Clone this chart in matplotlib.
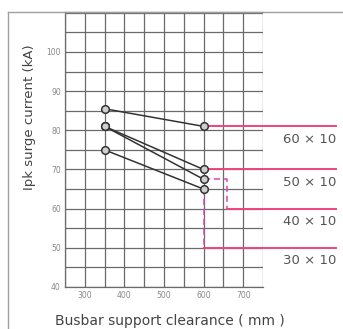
import numpy as np
import matplotlib.pyplot as plt
from matplotlib.lines import Line2D

# busbar sizes and surge current readings at 350 mm / 600 mm clearance
sizes = ["60 × 10", "50 × 10", "40 × 10", "30 × 10"]
clear = [350, 600]
ipk_350 = [85.5, 81, 81, 75]
ipk_600 = [81, 70, 67.5, 65]
# level where each size's pink line ends up, and the x of its step
level = [81, 70, 60, 50]
step_x = [600, 600, 660, 600]

pink = '#f0437c'
mag = '#dc45b4'
grid_c = '#6a6a6a'

fig = plt.figure(figsize=(3.43, 3.29), dpi=100)
ax = fig.add_axes([65/343, 42/329, 198/343, 275/329])
ax.set_xlim(250, 750)
ax.set_ylim(40, 110.2)
ax.set_xticks(np.arange(250, 751, 50), minor=True)
ax.set_yticks(np.arange(40, 111, 5), minor=True)
ax.set_xticks([300, 400, 500, 600, 700])
ax.set_yticks([40, 50, 60, 70, 80, 90, 100])
ax.grid(which='both', color=grid_c, lw=0.9)
ax.tick_params(which='both', length=0, pad=3, labelsize=5.5, labelcolor='#888888')
for s in ax.spines.values():
    s.set_color(grid_c)
    s.set_linewidth(0.9)
ax.spines['right'].set_visible(False)

xr = 935
for i in range(4):
    y0, y1, lv, sx = ipk_350[i], ipk_600[i], level[i], step_x[i]
    ax.plot(clear, [y0, y1], color='#333333', lw=1.1, zorder=4)
    if lv != y1:
        ax.plot([600, sx, sx], [y1, y1, lv], color=mag, lw=1.1, ls=(0, (4, 2.5)), zorder=3)
    ax.add_line(Line2D([sx, xr], [lv, lv], color=pink, lw=1.4, clip_on=False, zorder=3))
    ax.text(xr, lv - 3.3, sizes[i], ha='right', va='center', fontsize=9.5,
            color='#555555', clip_on=False)
    ax.plot(clear, [y0, y1], ls='none', marker='o', ms=5.5,
            mfc='#cfcfcf', mec='#333333', mew=1.1, zorder=5)

# outer frame
fig.add_artist(Line2D([8/343, 1], [1 - 12/329, 1 - 12/329], color='#a0a0a0', lw=1))
fig.add_artist(Line2D([8/343, 8/343], [0, 1 - 12/329], color='#a0a0a0', lw=1))

fig.text(30/343, 1 - 117/329, 'Ipk surge current (kA)', rotation=90, ha='center',
         va='center', fontsize=9.5, color='#444444')
fig.text(55/343, 0.002, 'Busbar support clearance ( mm )', ha='left', va='bottom',
         fontsize=10, color='#444444')

fig.savefig('out.png', dpi=100)
